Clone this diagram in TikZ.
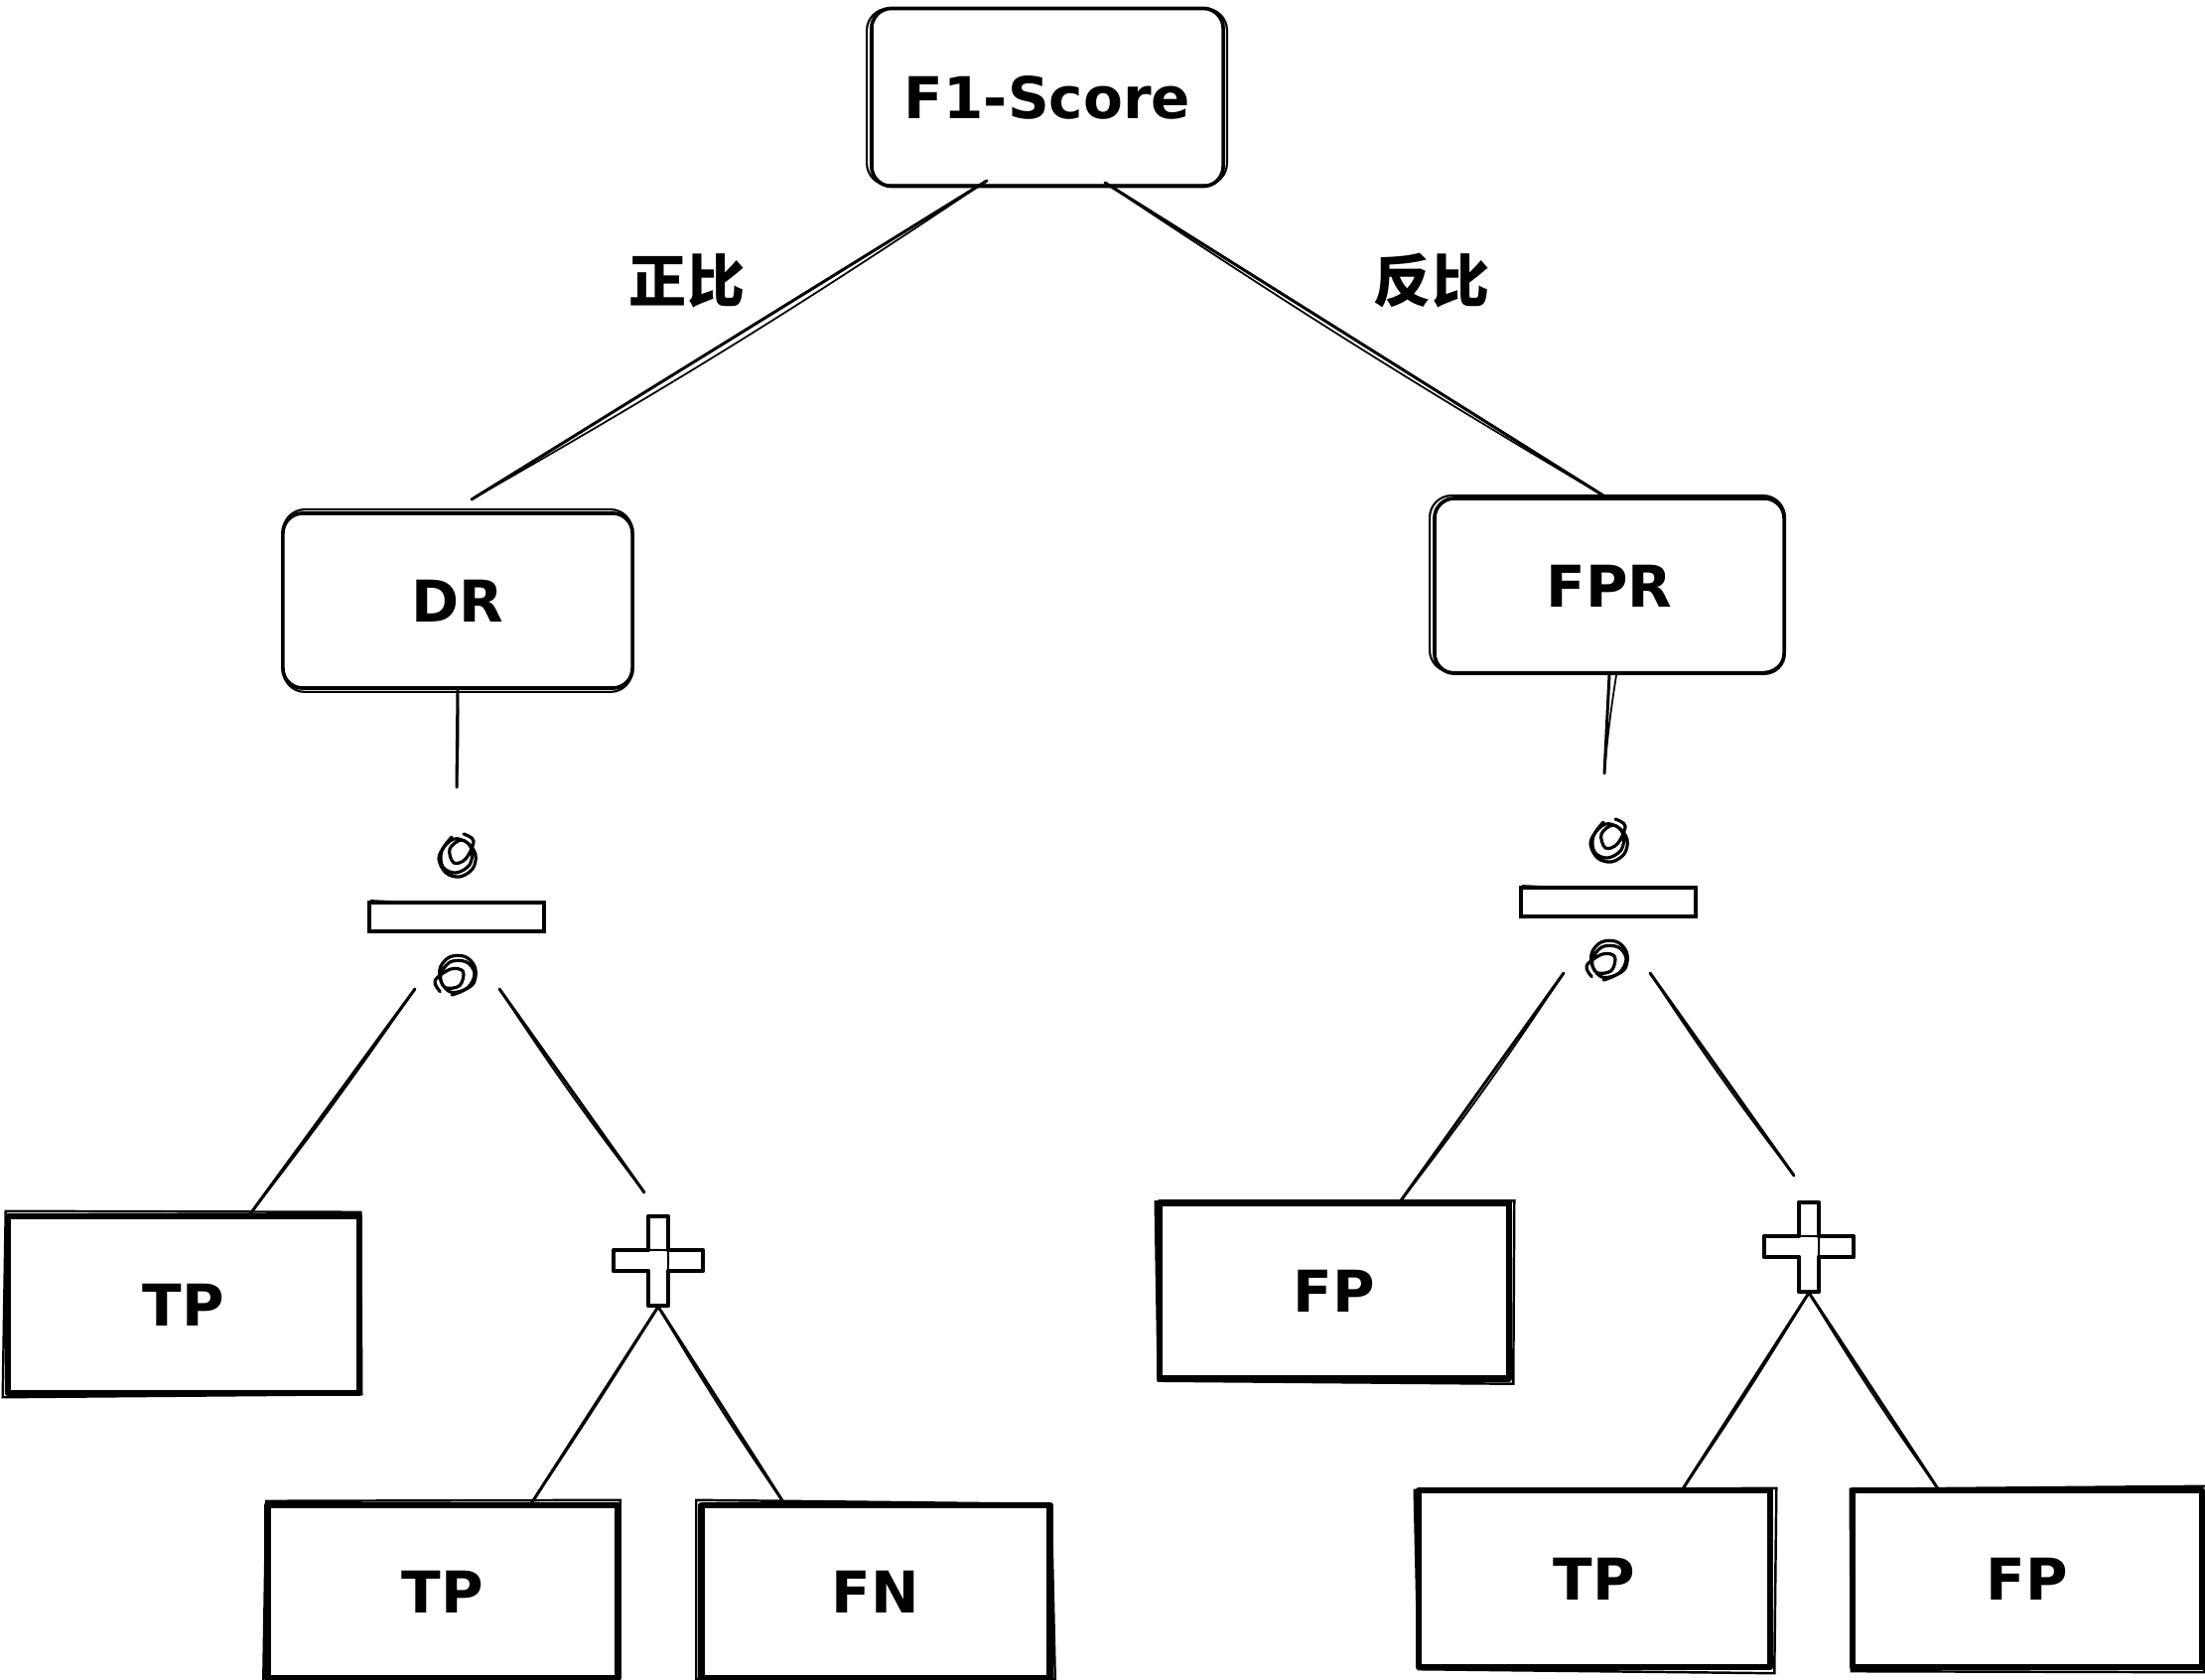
\documentclass[tikz,border=0pt]{standalone}
\usepackage{fontspec}
\setmainfont{DejaVu Sans}
\newfontfamily\cjk{Noto Sans CJK SC}
\usetikzlibrary{calc}
\begin{document}
\begin{tikzpicture}[x=0.01cm,y=-0.01cm,
  lbl/.style={font=\fontsize{16.5pt}{20pt}\selectfont\bfseries},
  softbox/.style={draw, line width=1.05pt, rounded corners=0.2cm,
    minimum width=3.52cm, minimum height=1.76cm, inner sep=0pt, lbl},
  hardbox/.style={draw, line width=1.8pt, line join=round,
    minimum width=3.52cm, minimum height=1.77cm, inner sep=0pt, lbl},
  conn/.style={line width=0.85pt, line cap=round},
  connb/.style={line width=0.5pt, line cap=round},
  cjklbl/.style={font=\cjk\bfseries\fontsize{16.5pt}{20pt}\selectfont},
  scribble/.pic={
    \draw[line width=0.9pt, line cap=round, line join=round]
      plot[smooth, tension=0.6] coordinates {(-6,-22) (-14,-12) (-19,0) (-12,14)
        (2,18) (15,10) (18,-4) (10,-16) (-4,-20) (-16,-8) (-15,8) (-2,14)
        (12,6) (14,-10) (4,-19) (-8,-10) (-4,4) (8,0) (16,-18) (6,-25)};
  },
  divsign/.pic={
    \draw[line width=1.05pt] (-88,-14) rectangle (88,15);
    \draw[line width=0.55pt] (-87,-16) .. controls (-20,-12) and (30,-17) .. (87,-13);
    \draw[line width=0.55pt] (-86,16) .. controls (-10,13) and (40,18) .. (88,14);
    \pic at (1,-58) {scribble};
    \pic[rotate=150] at (1,57) {scribble};
  },
  plussign/.pic={
    \draw[line width=1.3pt, line join=round]
      (-10,-45) -- (10,-45) -- (10,-11) -- (45,-11) -- (45,10) -- (10,10)
      -- (10,45) -- (-10,45) -- (-10,10) -- (-45,10) -- (-45,-11) -- (-10,-11) -- cycle;
    \draw[line width=0.55pt] (-44,-10) .. controls (-10,-13) and (20,-9) .. (44,-12);
    \draw[line width=0.55pt] (9,-44) .. controls (12,-10) and (8,20) .. (11,44);
  }
]
\useasboundingbox (0,0) rectangle (2221,1692);

% ratio boxes (rounded)
\node[softbox, minimum width=3.54cm, minimum height=1.79cm] (f1) at (1055,98) {F1-Score};
\node[softbox] (dr)  at (461,605)  {DR};
\node[softbox] (fpr) at (1621,590) {FPR};

% extra hand-drawn strokes on the rounded boxes
\foreach \n/\a/\b in {f1/-3/2, dr/2/-2, fpr/-3/-1}{
  \draw[line width=0.6pt, rounded corners=0.22cm]
    ([shift={(\a,\b)}]\n.north west) rectangle ([shift={(\b,\a)}]\n.south east);
}

% count boxes (square)
\node[hardbox, minimum width=3.54cm, minimum height=1.78cm] (tp1) at (185,1314) {TP};
\node[hardbox] (fp1) at (1344,1300) {FP};
\node[hardbox, minimum width=3.53cm, minimum height=1.74cm] (tp2) at (446,1603) {TP};
\node[hardbox, minimum width=3.51cm, minimum height=1.74cm] (fn)  at (882,1603) {FN};
\node[hardbox, minimum width=3.54cm, minimum height=1.78cm] (tp3) at (1606,1590) {TP};
\node[hardbox, minimum width=3.52cm, minimum height=1.78cm] (fp3) at (2042,1590) {FP};

\foreach \n/\a/\b in {tp1/1/-2, fp1/-1/2, tp2/2/-1, fn/-2/-2, tp3/-1/3, fp3/1/2}{
  \draw[line width=0.7pt]
    ([shift={(\a,\b)}]\n.north west) -- ([shift={(\b,-\a)}]\n.north east)
    -- ([shift={(-\a,\b)}]\n.south east) -- ([shift={(\b,\a)}]\n.south west) -- cycle;
}

% edge labels
\node[cjklbl] (pos) at (692,283) {正比};
\node[cjklbl] (neg) at (1442,283) {反比};

% division and sum operators
\coordinate (divL) at (460,923);
\coordinate (divR) at (1620,908);
\coordinate (plusL) at (663,1270);
\coordinate (plusR) at (1822,1256);
\pic at (divL) {divsign};
\pic at (divR) {divsign};
\pic at (plusL) {plussign};
\pic at (plusR) {plussign};

% connector end points
\coordinate (f1a)  at (994,182);
\coordinate (f1b)  at (1113,184);
\coordinate (drIn) at (475,503);
\coordinate (fprIn) at (1618,501);
\coordinate (drOut) at (460,793);
\coordinate (fprOut) at (1616,779);
\coordinate (dLa) at (418,996);
\coordinate (dLb) at (503,996);
\coordinate (tp1In) at (251,1224);
\coordinate (plLIn) at (649,1201);
\coordinate (plLOut) at (663,1316);
\coordinate (tp2In) at (534,1516);
\coordinate (fnIn) at (791,1516);
\coordinate (dRa) at (1575,980);
\coordinate (dRb) at (1662,980);
\coordinate (fp1In) at (1409,1212);
\coordinate (plRIn) at (1807,1184);
\coordinate (plROut) at (1822,1302);
\coordinate (tp3In) at (1694,1501);
\coordinate (fp3In) at (1953,1501);

% connectors, each traced twice like a pen sketch
\foreach \s/\t/\bb in {f1a/drIn/2, f1b/fprIn/-1.5, dLa/tp1In/1.5, dLb/plLIn/-2,
    plLOut/tp2In/1, plLOut/fnIn/-2, dRa/fp1In/2, dRb/plRIn/-2,
    plROut/tp3In/1.5, plROut/fp3In/-2}{
  \draw[conn] (\s) -- (\t);
  \draw[connb] (\s) to[bend left=\bb] (\t);
}
\draw[conn] (dr.south) -- (drOut);
\draw[connb] (dr.south) to[bend left=2] (drOut);
\draw[conn] (fpr.south) -- (fprOut);
\draw[connb] ([xshift=2]fpr.south) to[bend right=2] (fprOut);
\end{tikzpicture}
\end{document}
